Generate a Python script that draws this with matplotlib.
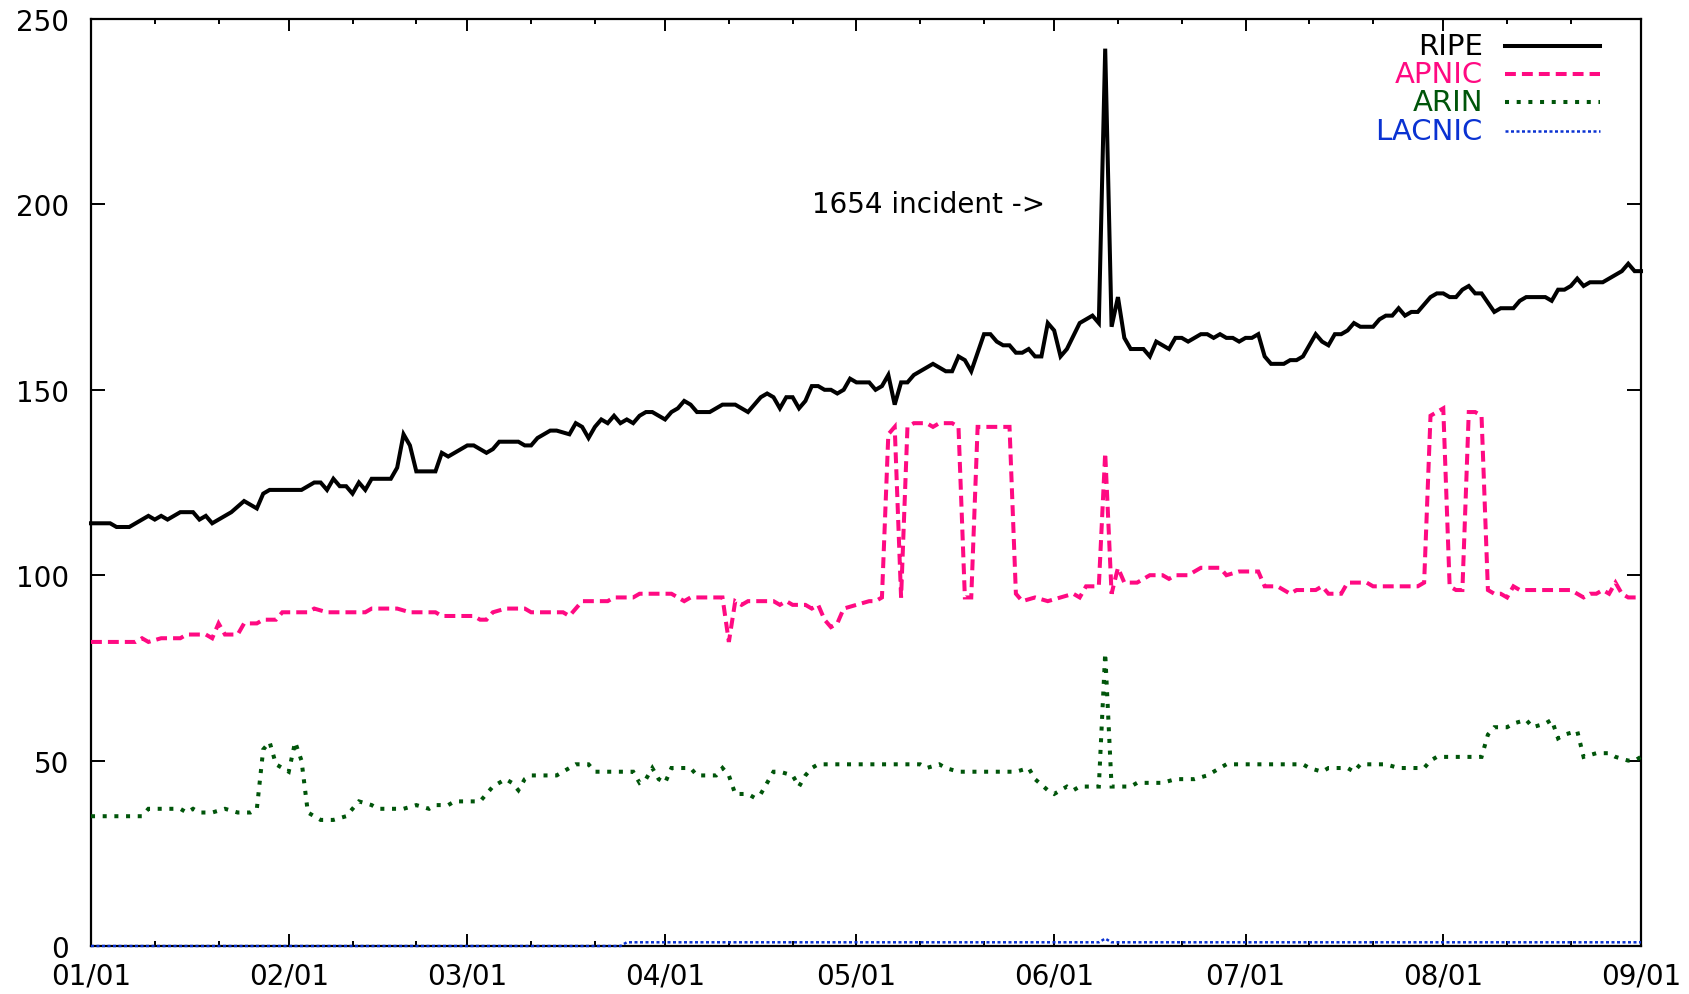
import numpy as np
import matplotlib
matplotlib.use('Agg')
import matplotlib.pyplot as plt
from matplotlib.lines import Line2D

plt.rcParams['font.family'] = ['DejaVu Sans']

# ---------------- data (day offset from 01/01, value) ----------------
start_date = '2005-01-01'

ripe_days = [0, 3, 4, 6, 9, 10, 11, 12, 14, 16, 17, 18, 19, 22, 24, 26, 27, 28, 33, 35, 36, 37, 38, 39, 40,
             41, 42, 43, 44, 47, 48, 49, 50, 51, 54, 55, 56, 59, 60, 62, 63, 64, 67, 68, 69, 70, 72, 73, 75,
             76, 77, 78, 79, 80, 81, 82, 83, 84, 85, 86, 87, 88, 90, 91, 92, 93, 94, 95, 97, 99, 101, 103,
             105, 106, 107, 108, 109, 110, 111, 112, 113, 114, 115, 116, 117, 118, 119, 120, 122, 123, 124,
             125, 126, 127, 128, 129, 132, 134, 135, 136, 137, 138, 140, 141, 142, 143, 144, 145, 146, 147,
             148, 149, 150, 151, 152, 153, 155, 157, 158, 159, 160, 161, 162, 163, 165, 166, 167, 169, 170,
             171, 172, 174, 175, 176, 177, 178, 179, 180, 181, 182, 183, 184, 185, 187, 188, 189, 190, 192,
             193, 194, 195, 196, 197, 198, 199, 201, 202, 203, 204, 205, 206, 207, 208, 210, 211, 212, 213,
             214, 215, 216, 217, 218, 220, 221, 223, 224, 225, 228, 229, 230, 231, 232, 233, 234, 235, 237,
             239, 240, 241, 242, 243]
ripe_vals = [114, 114, 113, 113, 116, 115, 116, 115, 117, 117, 115, 116, 114, 117, 120, 118, 122, 123, 123,
             125, 125, 123, 126, 124, 124, 122, 125, 123, 126, 126, 129, 138, 135, 128, 128, 133, 132, 135,
             135, 133, 134, 136, 136, 135, 135, 137, 139, 139, 138, 141, 140, 137, 140, 142, 141, 143, 141,
             142, 141, 143, 144, 144, 142, 144, 145, 147, 146, 144, 144, 146, 146, 144, 148, 149, 148, 145,
             148, 148, 145, 147, 151, 151, 150, 150, 149, 150, 153, 152, 152, 150, 151, 154, 146, 152, 152,
             154, 157, 155, 155, 159, 158, 155, 165, 165, 163, 162, 162, 160, 160, 161, 159, 159, 168, 166,
             159, 161, 168, 170, 168, 242, 167, 175, 164, 161, 161, 159, 163, 161, 164, 164, 163, 165, 165,
             164, 165, 164, 164, 163, 164, 164, 165, 159, 157, 157, 158, 158, 159, 165, 163, 162, 165, 165,
             166, 168, 167, 167, 169, 170, 170, 172, 170, 171, 171, 175, 176, 176, 175, 175, 177, 178, 176,
             176, 171, 172, 172, 174, 175, 175, 174, 177, 177, 178, 180, 178, 179, 179, 181, 182, 184, 182,
             182]

apnic_days = [0, 7, 8, 9, 11, 14, 15, 18, 19, 20, 21, 23, 24, 26, 27, 29, 30, 34, 35, 37, 43, 44, 48, 50,
              54, 55, 60, 61, 62, 63, 65, 68, 69, 74, 75, 77, 81, 82, 85, 86, 91, 92, 93, 94, 99, 100, 101,
              102, 103, 107, 108, 109, 110, 112, 113, 114, 115, 116, 117, 118, 120, 122, 123, 124, 125, 126,
              127, 128, 129, 131, 132, 133, 135, 136, 137, 138, 139, 144, 145, 146, 148, 150, 152, 154, 155,
              156, 158, 159, 160, 161, 162, 164, 166, 168, 169, 170, 172, 174, 177, 178, 180, 183, 184, 186,
              187, 188, 189, 192, 193, 194, 196, 197, 200, 201, 208, 209, 210, 211, 212, 213, 214, 215, 216,
              217, 218, 219, 220, 221, 222, 223, 224, 232, 233, 234, 235, 236, 237, 238, 239, 240, 241, 243]
apnic_vals = [82, 82, 83, 82, 83, 83, 84, 84, 83, 87, 84, 84, 87, 87, 88, 88, 90, 90, 91, 90, 90, 91, 91,
              90, 90, 89, 89, 88, 88, 90, 91, 91, 90, 90, 89, 93, 93, 94, 94, 95, 95, 94, 93, 94, 94, 82,
              93, 92, 93, 93, 92, 93, 92, 92, 91, 92, 88, 86, 87, 91, 92, 93, 93, 94, 138, 140, 94, 140,
              141, 141, 140, 141, 141, 140, 94, 94, 140, 140, 95, 93, 94, 93, 94, 95, 94, 97, 97, 133, 95,
              102, 98, 98, 100, 100, 99, 100, 100, 102, 102, 100, 101, 101, 97, 97, 96, 95, 96, 96, 97, 95,
              95, 98, 98, 97, 97, 98, 143, 144, 145, 97, 96, 96, 144, 144, 143, 96, 95, 95, 94, 97, 96, 96,
              95, 94, 95, 95, 96, 95, 98, 95, 94, 94]

arin_days = [0, 8, 9, 14, 15, 16, 17, 19, 21, 23, 25, 26, 27, 28, 29, 30, 31, 32, 33, 34, 35, 36, 38, 40,
             41, 42, 44, 45, 47, 49, 51, 53, 54, 56, 57, 61, 62, 63, 65, 66, 67, 68, 69, 73, 75, 76, 78, 79,
             85, 86, 87, 88, 89, 90, 91, 94, 95, 98, 99, 100, 101, 103, 104, 105, 106, 107, 108, 110, 111,
             112, 113, 114, 130, 131, 133, 134, 136, 145, 147, 148, 150, 151, 153, 154, 155, 158, 159, 160,
             163, 164, 168, 170, 173, 175, 177, 178, 190, 191, 193, 194, 197, 198, 199, 203, 205, 209, 210,
             211, 218, 219, 220, 222, 223, 225, 226, 228, 229, 230, 231, 233, 234, 236, 238, 239, 241, 242,
             243]
arin_vals = [35, 35, 37, 37, 36, 37, 36, 36, 37, 36, 36, 37, 53, 55, 49, 48, 47, 55, 50, 36, 35, 34, 34, 35,
             37, 39, 38, 37, 37, 37, 38, 37, 38, 38, 39, 39, 41, 43, 45, 44, 42, 45, 46, 46, 48, 49, 49, 47,
             47, 44, 45, 48, 45, 44, 48, 48, 46, 46, 48, 46, 41, 41, 40, 41, 44, 47, 47, 46, 43, 46, 48, 49,
             49, 48, 49, 48, 47, 47, 48, 45, 42, 41, 43, 42, 43, 43, 79, 43, 43, 44, 44, 45, 45, 46, 48, 49,
             49, 48, 47, 48, 48, 47, 49, 49, 48, 48, 50, 51, 51, 57, 59, 59, 60, 61, 59, 60, 61, 56, 57, 58,
             51, 52, 52, 51, 50, 50, 51]

lacnic_days = [0, 83, 84, 158, 159, 160, 243]
lacnic_vals = [0, 0, 1, 1, 2, 1, 1]

series_names = ['RIPE', 'APNIC', 'ARIN', 'LACNIC']
series_colors = ['#000000', '#ff0a82', '#00550a', '#0a32d2']

month_starts = ['2005-01-01', '2005-02-01', '2005-03-01', '2005-04-01', '2005-05-01',
                '2005-06-01', '2005-07-01', '2005-08-01', '2005-09-01']
x_tick_labels = ['01/01', '02/01', '03/01', '04/01', '05/01', '06/01', '07/01', '08/01', '09/01']
minor_days_of_month = [11, 21]
y_ticks = [0, 50, 100, 150, 200, 250]

annotation_text = '1654 incident ->'
annotation_day = 113.5
annotation_value = 200


def to_dates(days):
    return np.datetime64(start_date) + np.array(days, dtype='timedelta64[D]')


# ---------------- figure ----------------
W, H = 1689, 995
fig = plt.figure(figsize=(W / 100, H / 100), dpi=100)
ax_l, ax_r, ax_t, ax_b = 91, 1641, 20, 947
ax = fig.add_axes([ax_l / W, 1 - ax_b / H, (ax_r - ax_l) / W, (ax_b - ax_t) / H])

styles = [
    dict(linestyle='-', linewidth=2.9),
    dict(linestyle=(0, (2.7, 1.5)), linewidth=2.9),
    dict(linestyle=(0, (1.0, 1.9)), linewidth=2.9),
    dict(linestyle=(0, (1.2, 1.0)), linewidth=1.8),
]
all_days = [ripe_days, apnic_days, arin_days, lacnic_days]
all_vals = [ripe_vals, apnic_vals, arin_vals, lacnic_vals]

for days, vals, col, st in zip(all_days, all_vals, series_colors, styles):
    ax.plot(to_dates(days), vals, color=col, solid_joinstyle='miter', dash_joinstyle='miter',
            clip_on=False, zorder=3, **st)

ax.set_xlim(np.datetime64(month_starts[0]), np.datetime64(month_starts[-1]))
ax.set_ylim(0, 250)

ax.set_xticks(np.array(month_starts, dtype='datetime64[D]'))
ax.set_xticklabels(x_tick_labels)
minor = []
for m in month_starts[:-1]:
    for d in minor_days_of_month:
        minor.append(np.datetime64(m) + np.timedelta64(d - 1, 'D'))
ax.set_xticks(np.array(minor, dtype='datetime64[D]'), minor=True)
ax.set_yticks(y_ticks)
ax.set_yticklabels([str(v) for v in y_ticks])

ax.tick_params(axis='x', which='major', direction='in', length=8.5, width=1.4, top=True, bottom=True,
               labelsize=20, pad=11)
ax.tick_params(axis='x', which='minor', direction='in', length=3.6, width=1.4, top=True, bottom=True)
ax.tick_params(axis='y', which='major', direction='in', length=10, width=1.4, left=True, right=True,
               labelsize=20, pad=16)
for s in ax.spines.values():
    s.set_linewidth(1.6)

ax.text(np.datetime64(start_date) + np.timedelta64(int(annotation_day), 'D'), annotation_value,
        annotation_text, fontsize=20, ha='left', va='center', color='black')

# legend (gnuplot style: label right-aligned, sample to the right)
axw, axh = ax_r - ax_l, ax_b - ax_t
row0_px, row_step_px = 46.7, 28.3
text_right_px, line_x0_px, line_x1_px = 1483, 1505, 1600
for i, (name, col, st) in enumerate(zip(series_names, series_colors, styles)):
    yf = 1 - (row0_px + i * row_step_px - ax_t) / axh
    ax.text((text_right_px - ax_l) / axw, yf, name, transform=ax.transAxes, ha='right', va='center',
            fontsize=21, color=col)
    ln = Line2D([(line_x0_px - ax_l) / axw, (line_x1_px - ax_l) / axw], [yf, yf], transform=ax.transAxes,
                color=col, **st)
    ax.add_artist(ln)

fig.savefig('out.png', dpi=100)
